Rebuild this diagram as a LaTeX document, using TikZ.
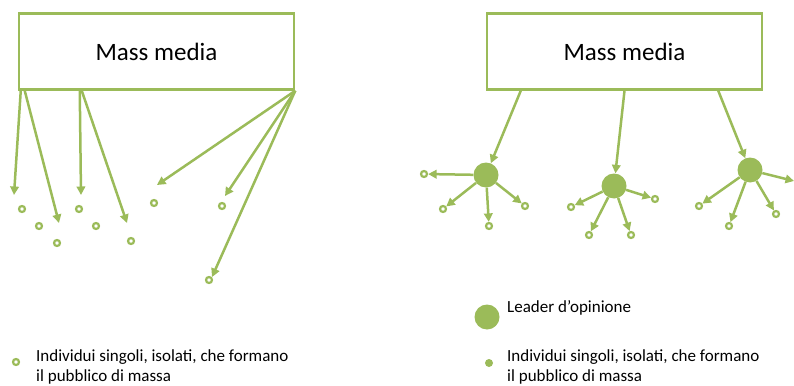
\documentclass[tikz,border=0pt]{standalone}
\usepackage{fontspec}
\setmainfont{Carlito}
\usetikzlibrary{arrows.meta,positioning}
\definecolor{mygreen}{HTML}{9BBB59}

\begin{document}
\begin{tikzpicture}[x=1pt,y=-1pt,
  mm/.style={draw=mygreen,line width=2.5pt,minimum width=275pt,minimum height=76pt,font=\fontsize{25}{30}\selectfont},
  ind/.style={circle,draw=mygreen,fill=white,line width=2.2pt,inner sep=0,minimum size=6pt},
  lead/.style={circle,fill=mygreen,inner sep=0,minimum size=25pt},
  a/.style={-{Triangle[length=8.5pt,width=8.5pt]},line width=2.5pt,mygreen},
  lg/.style={anchor=west,inner sep=0,align=left,font=\fontsize{17}{20}\selectfont}]
\useasboundingbox (0,0) rectangle (794,385);
% left: direct effect on isolated individuals
\node[mm] (mmL) at (156.5,51.5) {Mass media};
\foreach \p [count=\i] in {(22,209),(39,226),(57,243),(79,209),(96,226),(131,241),(154,203),(222,206),(209,280)}
  \node[ind] (r\i) at \p {};
\coordinate (t1) at (14,195);\coordinate (t2) at (59,223);\coordinate (t3) at (81,195);
\coordinate (t4) at (127,223);\coordinate (t5) at (157,185);\coordinate (t6) at (225,196);\coordinate (t7) at (212,277);
\draw[a] ([xshift=3pt]mmL.south west)--(t1);\draw[a] ([xshift=7pt]mmL.south west)--(t2);
\draw[a] ([xshift=62pt]mmL.south west)--(t3);\draw[a] ([xshift=64pt]mmL.south west)--(t4);
\draw[a] (mmL.south east)--(t5);\draw[a] (mmL.south east)--(t6);\draw[a] (mmL.south east)--(t7);
\node[ind] (kL) at (16,362) {};
\node[lg] (txL) at (36,367) {Individui singoli, isolati, che formano\\il pubblico di massa};
% right: two-step flow through opinion leaders
\node[mm] (mmR) at (624.5,51.5) {Mass media};
\node[lead] (l1) at (486,175) {};\node[lead] (l2) at (614,186) {};\node[lead] (l3) at (750,170) {};
\draw[a] ([xshift=35pt]mmR.south west)--(l1);\draw[a] (mmR.south)--(l2);\draw[a] ([xshift=-45pt]mmR.south east)--(l3);
\node[ind] (i11) at (424,174) {};\node[ind] (i12) at (443,209) {};\node[ind] (i13) at (489,226) {};\node[ind] (i14) at (525,206) {};
\node[ind] (i21) at (571,207) {};\node[ind] (i22) at (589,235) {};\node[ind] (i23) at (631,235) {};\node[ind] (i24) at (655,199) {};
\node[ind] (i31) at (699,206) {};\node[ind] (i32) at (729,226) {};\node[ind] (i33) at (776,214) {};\coordinate (i34) at (794,181);
\foreach \j in {1,...,4} \draw[a] (l1)--(i1\j);
\foreach \j in {1,...,4} \draw[a] (l2)--(i2\j);
\foreach \j in {1,...,4} \draw[a] (l3)--(i3\j);
\node[lead] (kR1) at (487,317) {};
\node[lg] (txR1) at (507,308) {Leader d’opinione};
\node[circle,fill=mygreen,inner sep=0,minimum size=8pt] (kR2) at (489,363) {};
\node[lg] (txR2) at (507,367) {Individui singoli, isolati, che formano\\il pubblico di massa};
\end{tikzpicture}
\end{document}
